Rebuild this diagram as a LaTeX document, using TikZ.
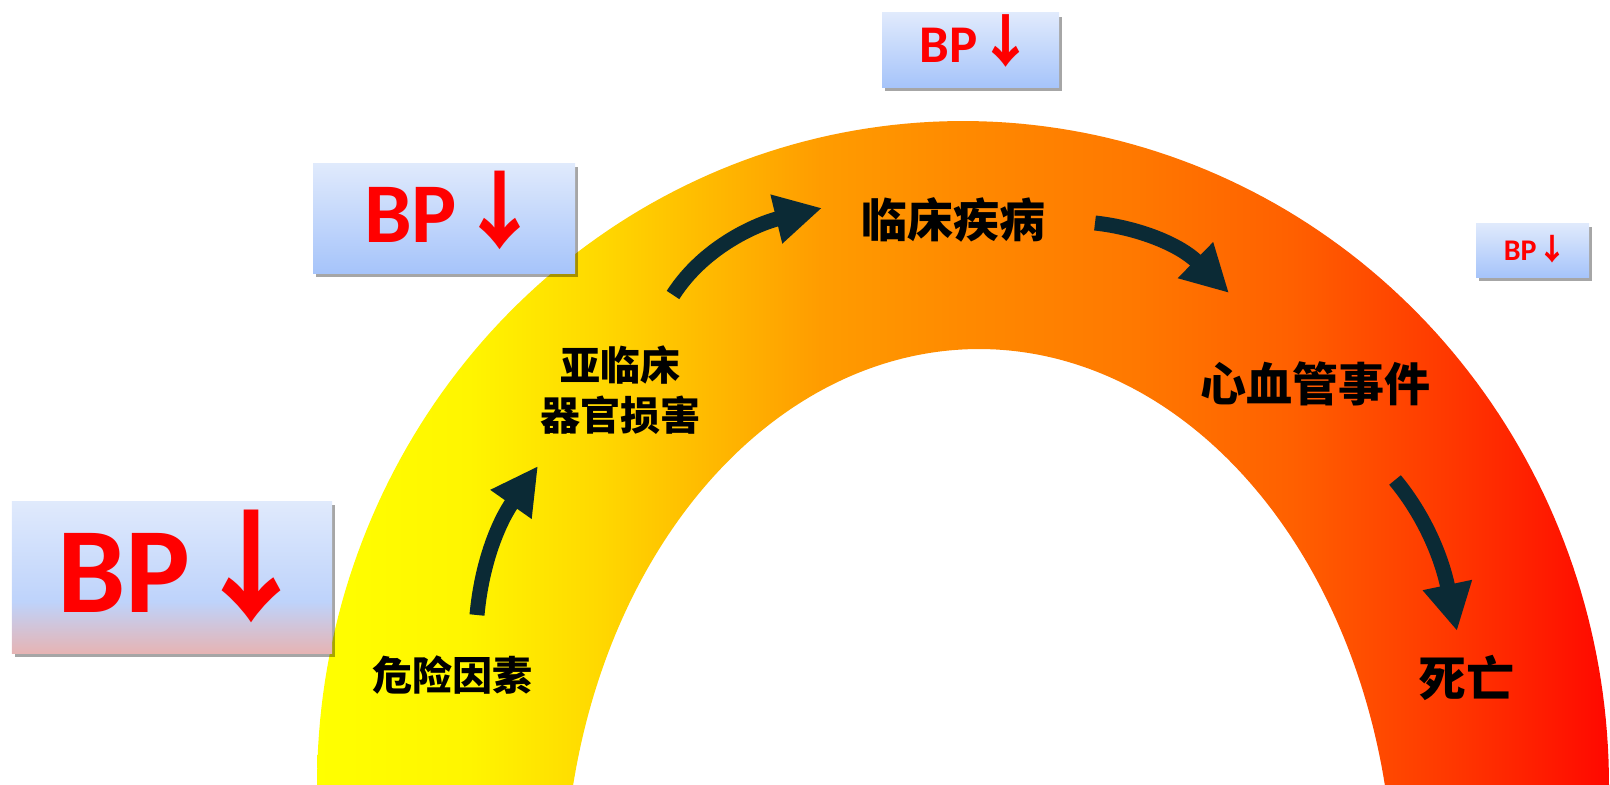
\documentclass[tikz,border=0pt]{standalone}
\usepackage{fontspec}
\newfontfamily\cjk{Noto Sans CJK SC}
\newfontfamily\bpfont{Carlito}
\usetikzlibrary{arrows.meta,shadows}
\definecolor{arrowdark}{RGB}{11,42,53}
\definecolor{bptop}{RGB}{224,234,252}
\definecolor{bpbot}{RGB}{166,196,250}
\definecolor{bpmid}{RGB}{190,211,251}
\definecolor{bppink}{RGB}{230,180,180}
\definecolor{bpred}{RGB}{255,0,0}
\definecolor{cA}{RGB}{255,255,0}
\definecolor{cB}{RGB}{255,245,0}
\definecolor{cC}{RGB}{255,216,0}
\definecolor{cD}{RGB}{255,188,0}
\definecolor{cE}{RGB}{255,156,0}
\definecolor{cF}{RGB}{255,138,0}
\definecolor{cG}{RGB}{255,120,0}
\definecolor{cH}{RGB}{255,96,0}
\definecolor{cI}{RGB}{255,56,0}
\definecolor{cJ}{RGB}{255,8,0}
\pgfdeclarehorizontalshading{archshade}{100bp}{color(0bp)=(cA); color(25bp)=(cA); color(30.9bp)=(cB); color(35.95bp)=(cC); color(39.8bp)=(cD); color(44.5bp)=(cE); color(49.9bp)=(cF); color(56.7bp)=(cG); color(62.7bp)=(cH); color(68.85bp)=(cI); color(75bp)=(cJ); color(100bp)=(cJ)}
\pgfdeclareverticalshading{boxone}{100bp}{color(0bp)=(bppink); color(25bp)=(bppink); color(42bp)=(bpmid); color(75bp)=(bptop); color(100bp)=(bptop)}
\tikzset{
  boxshadow/.style={drop shadow={shadow xshift=3bp, shadow yshift=-4bp, opacity=0.35, fill=black}},
  bpbox/.style={draw=none, inner sep=0pt, top color=bptop, bottom color=bpbot, boxshadow},
  bpboxone/.style={draw=none, inner sep=0pt, shading=boxone, boxshadow},
  bptext/.style={text=bpred, inner sep=0pt, anchor=base},
  stage/.style={text=black, inner sep=0pt, align=center},
  flow/.style={draw=arrowdark, line width=15bp, -{Triangle[length=47bp,width=47bp]}},
}
\begin{document}
\begin{tikzpicture}[x=1bp,y=-1bp]
\useasboundingbox (0,0) rectangle (1610,785);
% arch
\shade[shading=archshade]
  plot[domain=180:0,samples=160,variable=\t] ({963+646*cos(\t)},{785-664*sin(\t)})
  -- plot[domain=12.05:167.95,samples=160,variable=\t] ({979+415*cos(\t)},{900-551*sin(\t)})
  -- cycle;
% BP boxes
\node[bpboxone, minimum width=320bp, minimum height=152bp] (bp1) at (172,577) {};
\node[bpbox, minimum width=262bp, minimum height=110bp] (bp2) at (444,218) {};
\node[bpbox, minimum width=177bp, minimum height=74bp] (bp3) at (970.5,50) {};
\node[bpbox, minimum width=113bp, minimum height=54bp] (bp4) at (1532.5,250) {};
\node[bptext] (t1) at (172,612) {\fontsize{122bp}{122bp}\selectfont\bpfont\bfseries BP\cjk↓\kern-0.21em};
\node[bptext] (t2) at (444.5,242) {\fontsize{85bp}{85bp}\selectfont\bpfont\bfseries BP \cjk\kern-0.22em↓\kern-0.21em};
\node[bptext] (t3) at (971,63) {\fontsize{53bp}{53bp}\selectfont\bpfont\bfseries BP \cjk\fontsize{57bp}{57bp}\selectfont\kern-0.22em↓\kern-0.21em};
\node[bptext] (t4) at (1532.5,260) {\fontsize{30bp}{30bp}\selectfont\bpfont\bfseries BP \cjk\kern-0.2em↓\kern-0.21em};
% stage labels
\node[stage, font=\cjk\bfseries\fontsize{40bp}{50bp}\selectfont] (s1) at (452,675) {危险因素};
\node[stage, font=\cjk\bfseries\fontsize{40bp}{50bp}\selectfont] (s2) at (620,390) {亚临床\\器官损害};
\node[stage, font=\cjk\bfseries\fontsize{46bp}{50bp}\selectfont] (s3) at (953,220) {临床疾病};
\node[stage, font=\cjk\bfseries\fontsize{46bp}{50bp}\selectfont] (s4) at (1315,384) {心血管事件};
\node[stage, font=\cjk\bfseries\fontsize{48bp}{50bp}\selectfont] (s5) at (1466,678) {死亡};
% arrow ends
\coordinate (a1s) at (477,615);
\coordinate (a1e) at (538,466);
\coordinate (a2s) at (673,295);
\coordinate (a2e) at (822,208);
\coordinate (a3s) at (1095,223);
\coordinate (a3e) at (1229,293);
\coordinate (a4s) at (1395,480);
\coordinate (a4e) at (1457,631);
\draw[flow] (a1s) .. controls (482,560) and (500,520) .. (a1e);
\draw[flow] (a2s) .. controls (705,245) and (760,223) .. (a2e);
\draw[flow] (a3s) .. controls (1140,228) and (1180,245) .. (a3e);
\draw[flow] (a4s) .. controls (1420,510) and (1440,550) .. (a4e);
\end{tikzpicture}
\end{document}
